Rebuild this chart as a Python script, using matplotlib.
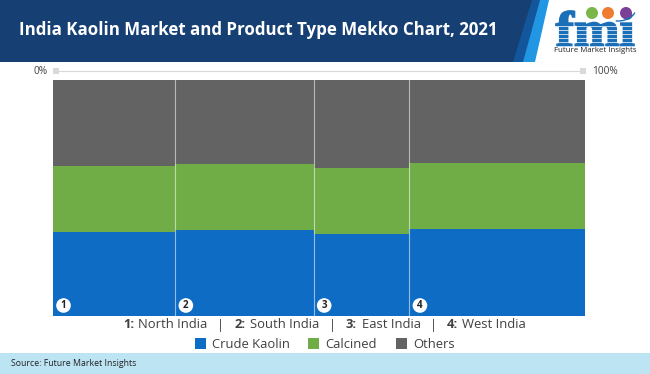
import numpy as np
import matplotlib
matplotlib.use('Agg')
import matplotlib.pyplot as plt
from matplotlib.patches import Polygon, Rectangle, Circle, PathPatch, Arc
from matplotlib.textpath import TextPath
from matplotlib.font_manager import FontProperties
from matplotlib.transforms import Affine2D

plt.rcParams['font.family'] = ['Open Sans', 'DejaVu Sans']

title = 'India Kaolin Market and Product Type Mekko Chart, 2021'
regions = ['North India', 'South India', 'East India', 'West India']
# share of the market, % (column widths)
region_share = [23.0, 26.0, 18.0, 33.0]
crude_kaolin = [35.6, 36.5, 34.8, 36.8]
calcined = [28.0, 27.8, 28.0, 28.1]
others = [36.4, 35.7, 37.2, 35.1]
series_names = ['Crude Kaolin', 'Calcined', 'Others']
series_colors = ['#0f6cc4', '#70ad47', '#636363']

W, H = 650, 374
fig = plt.figure(figsize=(W / 100, H / 100), dpi=100)

# mekko
ax = fig.add_axes([53 / W, 1 - 316 / H, 532 / W, 236 / H], zorder=1)
widths = np.array(region_share)
lefts = np.concatenate([[0], np.cumsum(widths)[:-1]])
bottom = np.zeros(4)
for vals, name, col in zip([crude_kaolin, calcined, others], series_names, series_colors):
    ax.bar(lefts, vals, width=widths, bottom=bottom, align='edge', color=col, lw=0)
    bottom = bottom + np.array(vals)
for x in lefts[1:]:
    ax.axvline(x, color='white', alpha=0.55, lw=0.8)
ax.set_xlim(0, 100)
ax.set_ylim(0, 100)
ax.axis('off')

# whole-figure layer in pixel coordinates, y going down
bg = fig.add_axes([0, 0, 1, 1], zorder=2)
bg.set_xlim(0, W)
bg.set_ylim(H, 0)
bg.axis('off')

# header band
bg.add_patch(Polygon([[0, 0], [549, 0], [535, 62], [0, 62]], color='#2196e3', lw=0))
bg.add_patch(Polygon([[0, 0], [540, 0], [523, 62], [0, 62]], color='#14569c', lw=0))
bg.add_patch(Polygon([[0, 0], [532, 0], [513, 62], [0, 62]], color='#163f73', lw=0))
bg.text(19, 30, title, color='white', fontsize=12.2, fontweight='bold', va='center', ha='left')

# logo, letters stretched to fit with white stripes over them
fp = FontProperties(family='Liberation Serif', weight='bold')
tp = TextPath((0, 0), 'fmi', size=10, prop=fp)
box = tp.get_extents()
sx = (634 - 556) / box.width
sy = (46 - 11) / box.height
tr = Affine2D().translate(-box.x0, -box.y0).scale(sx, -sy).translate(556, 46)
bg.add_patch(PathPatch(tr.transform_path(tp), facecolor='#1b6fb8', edgecolor='#1b6fb8', lw=1.3))
for y in np.arange(26, 47, 4):
    bg.plot([553, 637], [y, y], color='white', lw=0.5)
for cx, col in zip([592, 608, 626], ['#7ab648', '#ee7d31', '#7b3f98']):
    bg.add_patch(Circle((cx, 13), 6, color=col, lw=0))
bg.add_patch(Arc((618, 8), 36, 26, theta1=15, theta2=100, color='#1b6fb8', lw=1))
bg.text(595.5, 50.5, 'Future Market Insights', color='#222222', fontsize=5.65, ha='center', va='center')

# 0-100% scale above the plot
bg.plot([55, 583], [71, 71], color='#d9d9d9', lw=0.8)
bg.add_patch(Rectangle((53, 68), 6, 6, color='#d9d9d9', lw=0))
bg.add_patch(Rectangle((580, 68), 6, 6, color='#d9d9d9', lw=0))
bg.text(48, 71, '0%', color='#404040', fontsize=7.3, ha='right', va='center')
bg.text(592, 71, '100%', color='#404040', fontsize=7.3, ha='left', va='center')

# numbered markers
for i, x in enumerate(lefts):
    px = 53 + x * 5.32 + 10.5
    bg.add_patch(Circle((px, 305.5), 7.3, color='white', lw=0, zorder=5))
    bg.text(px, 305.5, str(i + 1), color='#222222', fontsize=7, fontweight='bold',
            ha='center', va='center', zorder=6)

# region key
key_x = [123, 235, 346, 447]
for i, (x, name) in enumerate(zip(key_x, regions)):
    bg.text(x, 325, f'{i + 1}:', color='#404040', fontsize=9.4, fontweight='bold', ha='left', va='center')
    bg.text(x + 15.5, 325, name, color='#404040', fontsize=9.4, ha='left', va='center')
for x in [220, 332, 433]:
    bg.text(x, 325, '|', color='#404040', fontsize=9.4, ha='center', va='center')

# legend
for x, name, col in zip([195, 308, 396], series_names, series_colors):
    bg.add_patch(Rectangle((x, 338), 11, 11, color=col, lw=0))
    bg.text(x + 17, 344, name, color='#404040', fontsize=9.4, ha='left', va='center')

# source bar
bg.add_patch(Rectangle((0, 353), W, 21, color='#bde4f3', lw=0))
bg.text(11, 364, 'Source: Future Market Insights', color='#222222', fontsize=6.3, ha='left', va='center')

fig.savefig('out.png', dpi=100)
